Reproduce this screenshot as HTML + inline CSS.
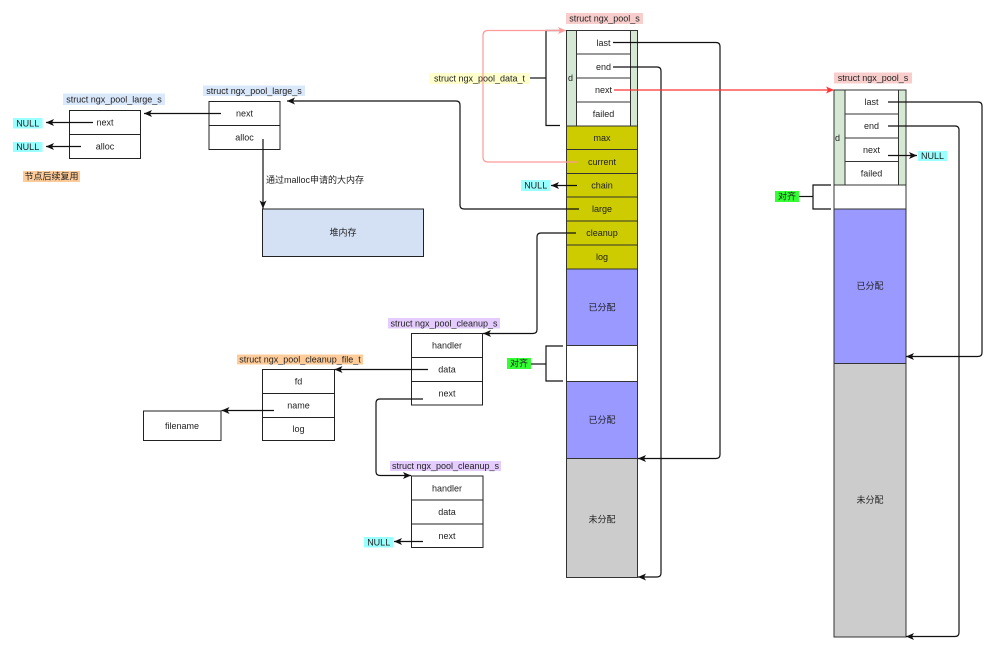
<!DOCTYPE html>
<html><head><meta charset="utf-8"><style>
html,body{margin:0;padding:0;background:#fff;}
svg{display:block;}
text{font-family:"Liberation Sans","Noto Sans CJK SC",sans-serif;font-size:9px;fill:#222;}
</style></head><body>
<svg width="1000" height="654" viewBox="0 0 1000 654" xmlns="http://www.w3.org/2000/svg">
<defs>
<marker id="a" markerUnits="userSpaceOnUse" markerWidth="8" markerHeight="7" refX="8" refY="3.5" orient="auto"><path d="M0,0 L8,3.5 L0,7 L2,3.5 z" fill="#111"/></marker>
<marker id="ar" markerUnits="userSpaceOnUse" markerWidth="8" markerHeight="7" refX="8" refY="3.5" orient="auto"><path d="M0,0 L8,3.5 L0,7 L2,3.5 z" fill="#ff3333"/></marker>
<marker id="ap" markerUnits="userSpaceOnUse" markerWidth="8" markerHeight="7" refX="8" refY="3.5" orient="auto"><path d="M0,0 L8,3.5 L0,7 L2,3.5 z" fill="#ff9999"/></marker>
</defs>
<rect width="1000" height="654" fill="#fff"/>

<g text-anchor="middle" dominant-baseline="central">
<!-- ===== middle pool ===== -->
<rect x="566" y="13" width="77" height="11" fill="#f8cecc"/>
<text x="604.5" y="18.5">struct ngx_pool_s</text>
<rect x="566.5" y="30.5" width="71" height="95.5" fill="#d5e8d4" stroke="#333"/>
<rect x="576.5" y="30.5" width="54" height="23.5" fill="#fff" stroke="#333"/>
<rect x="576.5" y="54" width="54" height="24" fill="#fff" stroke="#333"/>
<rect x="576.5" y="78" width="54" height="24" fill="#fff" stroke="#333"/>
<rect x="576.5" y="102" width="54" height="24" fill="#fff" stroke="#333"/>
<text x="603.5" y="43">last</text>
<text x="603.5" y="67">end</text>
<text x="603.5" y="90">next</text>
<text x="603.5" y="114">failed</text>
<text x="570.5" y="78">d</text>

<rect x="566.5" y="126" width="71" height="23.5" fill="#cccc00" stroke="#333"/>
<rect x="566.5" y="149.5" width="71" height="24" fill="#cccc00" stroke="#333"/>
<rect x="566.5" y="173.5" width="71" height="23.5" fill="#cccc00" stroke="#333"/>
<rect x="566.5" y="197" width="71" height="24" fill="#cccc00" stroke="#333"/>
<rect x="566.5" y="221" width="71" height="24" fill="#cccc00" stroke="#333"/>
<rect x="566.5" y="245" width="71" height="24" fill="#cccc00" stroke="#333"/>
<text x="602" y="138">max</text>
<text x="602" y="162">current</text>
<text x="602" y="185.5">chain</text>
<text x="602" y="209">large</text>
<text x="602" y="233">cleanup</text>
<text x="602" y="257">log</text>

<rect x="566.5" y="269" width="71" height="76.5" fill="#9999ff" stroke="#333"/>
<rect x="566.5" y="345.5" width="71" height="36" fill="#fff" stroke="#333"/>
<rect x="566.5" y="381.5" width="71" height="77" fill="#9999ff" stroke="#333"/>
<rect x="566.5" y="458.5" width="71" height="119" fill="#cccccc" stroke="#333"/>
<text x="602" y="307.5">已分配</text>
<text x="602" y="420">已分配</text>
<text x="602" y="519.5">未分配</text>

<rect x="429" y="73" width="101" height="11" fill="#ffffcc"/>
<text x="479.5" y="78.5">struct ngx_pool_data_t</text>

<rect x="521" y="180" width="29.5" height="11" fill="#99ffff"/>
<text x="535.7" y="185.5">NULL</text>
<rect x="507" y="358" width="24" height="11" fill="#33ff33"/>
<text x="519" y="363.5">对齐</text>

<!-- ===== right pool ===== -->
<rect x="834" y="72.5" width="78" height="11" fill="#f8cecc"/>
<text x="873" y="78">struct ngx_pool_s</text>
<rect x="834" y="90" width="72" height="95" fill="#d5e8d4" stroke="#333"/>
<rect x="845" y="90" width="53.5" height="24" fill="#fff" stroke="#333"/>
<rect x="845" y="114" width="53.5" height="24" fill="#fff" stroke="#333"/>
<rect x="845" y="138" width="53.5" height="23.5" fill="#fff" stroke="#333"/>
<rect x="845" y="161.5" width="53.5" height="23.5" fill="#fff" stroke="#333"/>
<text x="871.5" y="102">last</text>
<text x="871.5" y="126">end</text>
<text x="871.5" y="150">next</text>
<text x="871.5" y="173.5">failed</text>
<text x="837.5" y="138">d</text>
<rect x="834" y="185" width="72" height="24" fill="#fff" stroke="#333"/>
<rect x="834" y="209" width="72" height="154.5" fill="#9999ff" stroke="#333"/>
<rect x="834" y="363.5" width="72" height="273.5" fill="#cccccc" stroke="#333"/>
<text x="870" y="286">已分配</text>
<text x="870" y="500">未分配</text>
<rect x="918" y="151" width="29" height="10" fill="#99ffff"/>
<text x="932.5" y="156">NULL</text>
<rect x="775" y="191" width="24" height="11" fill="#33ff33"/>
<text x="787" y="196.5">对齐</text>

<!-- ===== large structs ===== -->
<rect x="63" y="93.5" width="102" height="11.5" fill="#dae8fc"/>
<text x="114" y="99.3">struct ngx_pool_large_s</text>
<rect x="69.5" y="110.5" width="71" height="24" fill="#fff" stroke="#222"/>
<rect x="69.5" y="134.5" width="71" height="24" fill="#fff" stroke="#222"/>
<text x="105" y="122.5">next</text>
<text x="105" y="146.5">alloc</text>
<rect x="13" y="118" width="29.5" height="10.5" fill="#99ffff"/>
<text x="27.7" y="123.3">NULL</text>
<rect x="13" y="142" width="29.5" height="10" fill="#99ffff"/>
<text x="27.7" y="147">NULL</text>
<rect x="23" y="171" width="57" height="11" fill="#ffcc99"/>
<text x="51.5" y="176.5">节点后续复用</text>

<rect x="203" y="85.5" width="102" height="10.5" fill="#dae8fc"/>
<text x="254" y="90.8">struct ngx_pool_large_s</text>
<rect x="209" y="101.5" width="71" height="24" fill="#fff" stroke="#222"/>
<rect x="209" y="125.5" width="71" height="24" fill="#fff" stroke="#222"/>
<text x="244.5" y="113.5">next</text>
<text x="244.5" y="137.5">alloc</text>
<rect x="262.5" y="209" width="161" height="47.5" fill="#d4e1f5" stroke="#222"/>
<text x="343" y="232.5">堆内存</text>

<!-- ===== cleanup ===== -->
<rect x="388" y="318" width="112" height="10.5" fill="#e5ccff"/>
<text x="444" y="323.3">struct ngx_pool_cleanup_s</text>
<rect x="411.5" y="333.5" width="71" height="24" fill="#fff" stroke="#222"/>
<rect x="411.5" y="357.5" width="71" height="24" fill="#fff" stroke="#222"/>
<rect x="411.5" y="381.5" width="71" height="23.5" fill="#fff" stroke="#222"/>
<text x="447" y="345.5">handler</text>
<text x="447" y="369.5">data</text>
<text x="447" y="393.5">next</text>

<rect x="237" y="354.5" width="126" height="10" fill="#ffcc99"/>
<text x="300" y="359.5">struct ngx_pool_cleanup_file_t</text>
<rect x="262.5" y="369.5" width="72" height="24" fill="#fff" stroke="#222"/>
<rect x="262.5" y="393.5" width="72" height="24" fill="#fff" stroke="#222"/>
<rect x="262.5" y="417.5" width="72" height="23" fill="#fff" stroke="#222"/>
<text x="298.5" y="381.5">fd</text>
<text x="298.5" y="405.5">name</text>
<text x="298.5" y="429">log</text>
<rect x="143.5" y="411" width="77.5" height="29.5" fill="#fff" stroke="#222"/>
<text x="182" y="426">filename</text>

<rect x="390" y="461" width="111" height="10" fill="#e5ccff"/>
<text x="445.5" y="466">struct ngx_pool_cleanup_s</text>
<rect x="411.5" y="476" width="71.5" height="24" fill="#fff" stroke="#222"/>
<rect x="411.5" y="500" width="71.5" height="24" fill="#fff" stroke="#222"/>
<rect x="411.5" y="524" width="71.5" height="23.5" fill="#fff" stroke="#222"/>
<text x="447" y="488.5">handler</text>
<text x="447" y="512">data</text>
<text x="447" y="536">next</text>
<rect x="364" y="537" width="29.5" height="10.5" fill="#99ffff"/>
<text x="378.7" y="542.3">NULL</text>
</g>

<text x="266" y="180" dominant-baseline="central">通过malloc申请的大内存</text>

<!-- ===== connectors ===== -->
<g fill="none" stroke="#111" stroke-width="1.2">
<path d="M530,78 H546"/>
<path d="M560,30.5 H546 V125.5 H560"/>
<path d="M613,42.5 H716 Q720,42.5 720,46.5 V454.5 Q720,458.5 716,458.5 H638" marker-end="url(#a)"/>
<path d="M613,67 H657 Q661,67 661,71 V573 Q661,577 657,577 H638" marker-end="url(#a)"/>
<path d="M577,185.5 H551" marker-end="url(#a)"/>
<path d="M579,209 H464 Q460,209 460,205 V105 Q460,101 456,101 H287" marker-end="url(#a)"/>
<path d="M576,233 H541 Q537,233 537,237 V329.5 Q537,333.5 533,333.5 H483" marker-end="url(#a)"/>
<path d="M531,364 H546"/>
<path d="M563,346 H546 V381 H563"/>

<path d="M888,102 H978 Q982,102 982,106 V352.5 Q982,356.5 978,356.5 H906" marker-end="url(#a)"/>
<path d="M888,126 H955 Q959,126 959,130 V632.5 Q959,636.5 955,636.5 H906" marker-end="url(#a)"/>
<path d="M888,155.5 H917" marker-end="url(#a)"/>
<path d="M799,196.5 H813"/>
<path d="M831,185 H813 V209 H831"/>

<path d="M93,122.5 H46" marker-end="url(#a)"/>
<path d="M81,146.5 H46" marker-end="url(#a)"/>
<path d="M221,113.5 H144" marker-end="url(#a)"/>
<path d="M263,139 V208.5" marker-end="url(#a)"/>

<path d="M428,369.5 H334.5" marker-end="url(#a)"/>
<path d="M274,410.5 H221.5" marker-end="url(#a)"/>
<path d="M423,399 H380 Q376,399 376,403 V471.5 Q376,475.5 380,475.5 H411" marker-end="url(#a)"/>
<path d="M423,541.5 H394" marker-end="url(#a)"/>
</g>
<path d="M577,162 H488 Q483,162 483,157 V35.5 Q483,30.5 488,30.5 H566" fill="none" stroke="#ff9999" stroke-width="1.2" marker-end="url(#ap)"/>
<path d="M614,90 H834" fill="none" stroke="#ff3333" stroke-width="1.2" marker-end="url(#ar)"/>
</svg>
</body></html>
